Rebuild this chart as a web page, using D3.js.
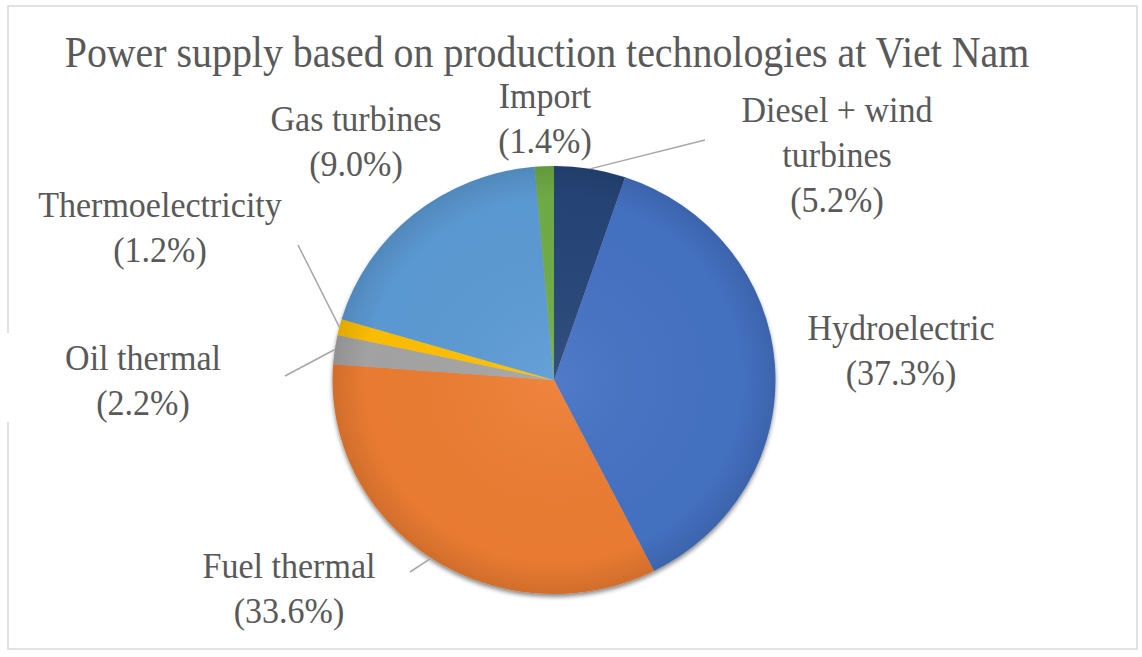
<!DOCTYPE html>
<html>
<head>
<meta charset="utf-8">
<script src="https://cdn.jsdelivr.net/npm/d3@7"></script>
</head>
<body style="margin:0">
<svg id="chart" width="1142" height="657" style="font-family: 'Liberation Serif'"></svg>
<script>
const title = 'Power supply based on production technologies at Viet Nam'
const categories = ['Diesel + wind turbines', 'Hydroelectric', 'Fuel thermal', 'Oil thermal', 'Thermoelectricity', 'Gas turbines', 'Import']
const labelLines = [['Diesel + wind', 'turbines'], ['Hydroelectric'], ['Fuel thermal'], ['Oil thermal'], ['Thermoelectricity'], ['Gas turbines'], ['Import']]
const shares = [5.2, 37.3, 33.6, 2.2, 1.2, 19.0, 1.4]
const shareLabels = ['(5.2%)', '(37.3%)', '(33.6%)', '(2.2%)', '(1.2%)', '(9.0%)', '(1.4%)']
const colors = ['#264478', '#4472c4', '#ed7d31', '#a5a5a5', '#ffc000', '#5b9bd5', '#70ad47']

const svg = d3.select('#chart')
const cx = 554
const cy = 380
const r = 214
const sx = 1.035 // pie is a little wider than tall

// chart frame
svg.append('rect')
  .attr('x', 8).attr('y', 6)
  .attr('width', 1129).attr('height', 643)
  .attr('fill', '#fff')
  .attr('stroke', '#d9d9d9')
  .attr('stroke-width', 1.5)

svg.append('rect')
  .attr('x', 0).attr('y', 333)
  .attr('width', 285).attr('height', 89)
  .attr('fill', '#fff')

// title, squeezed to the width it has in the picture
const titleG = svg.append('g')
const titleText = titleG.append('text')
  .attr('x', 0).attr('y', 0)
  .attr('text-anchor', 'middle')
  .style('font-family', 'Liberation Serif')
  .style('font-size', '45px')
  .attr('fill', '#595959')
  .text(title)
const tw = titleText.node().getComputedTextLength()
titleG.attr('transform', `translate(547,67) scale(${965 / tw},1)`)

const defs = svg.append('defs')
const shade = defs.append('radialGradient').attr('id', 'shade')
shade.append('stop').attr('offset', '0%').attr('stop-color', '#fff').attr('stop-opacity', 0.06)
shade.append('stop').attr('offset', '85%').attr('stop-color', '#000').attr('stop-opacity', 0.02)
shade.append('stop').attr('offset', '100%').attr('stop-color', '#000').attr('stop-opacity', 0.12)

const shadow = defs.append('filter').attr('id', 'shadow')
  .attr('x', '-10%').attr('y', '-10%').attr('width', '120%').attr('height', '120%')
shadow.append('feDropShadow')
  .attr('dx', 0).attr('dy', 3)
  .attr('stdDeviation', 2)
  .attr('flood-color', '#000')
  .attr('flood-opacity', 0.45)

const pie = d3.pie().sort(null).value((d) => d)
const arcs = pie(shares)
const arc = d3.arc().innerRadius(0).outerRadius(r)
const edge = d3.arc().innerRadius(r).outerRadius(r)

const pieLayer = svg.append('g').attr('transform', `translate(${cx},${cy}) scale(${sx},1)`)

pieLayer.append('g')
  .attr('filter', 'url(#shadow)')
  .selectAll('path')
  .data(arcs)
  .enter()
  .append('path')
  .attr('d', arc)
  .attr('fill', (d, i) => colors[i])

pieLayer.append('circle')
  .attr('r', r)
  .attr('fill', 'url(#shade)')

// leader lines: slice edge -> label
const leaderEnds = [[705, 140], null, [410, 572], [285, 376], [298, 245], null, null]
arcs.forEach((d, i) => {
  if (!leaderEnds[i]) return
  const p = edge.centroid(d)
  svg.append('line')
    .attr('x1', cx + p[0] * sx).attr('y1', cy + p[1])
    .attr('x2', leaderEnds[i][0]).attr('y2', leaderEnds[i][1])
    .attr('stroke', '#a6a6a6')
    .attr('stroke-width', 1.5)
})

// labels: center x and first baseline
const labelPos = [[837, 122], [901, 340], [289, 578], [143, 370], [160, 217], [356, 131], [545, 108]]
const lineGap = 45

categories.forEach((c, i) => {
  const lines = labelLines[i].concat([shareLabels[i]])
  const g = svg.append('g')
    .attr('transform', `translate(${labelPos[i][0]},${labelPos[i][1]}) scale(0.945,1)`)
  lines.forEach((t, j) => {
    g.append('text')
      .attr('x', 0)
      .attr('y', j * lineGap)
      .attr('text-anchor', 'middle')
      .style('font-family', 'Liberation Serif')
      .style('font-size', '36px')
      .attr('fill', '#595959')
      .text(t)
  })
})
</script>
</body>
</html>
